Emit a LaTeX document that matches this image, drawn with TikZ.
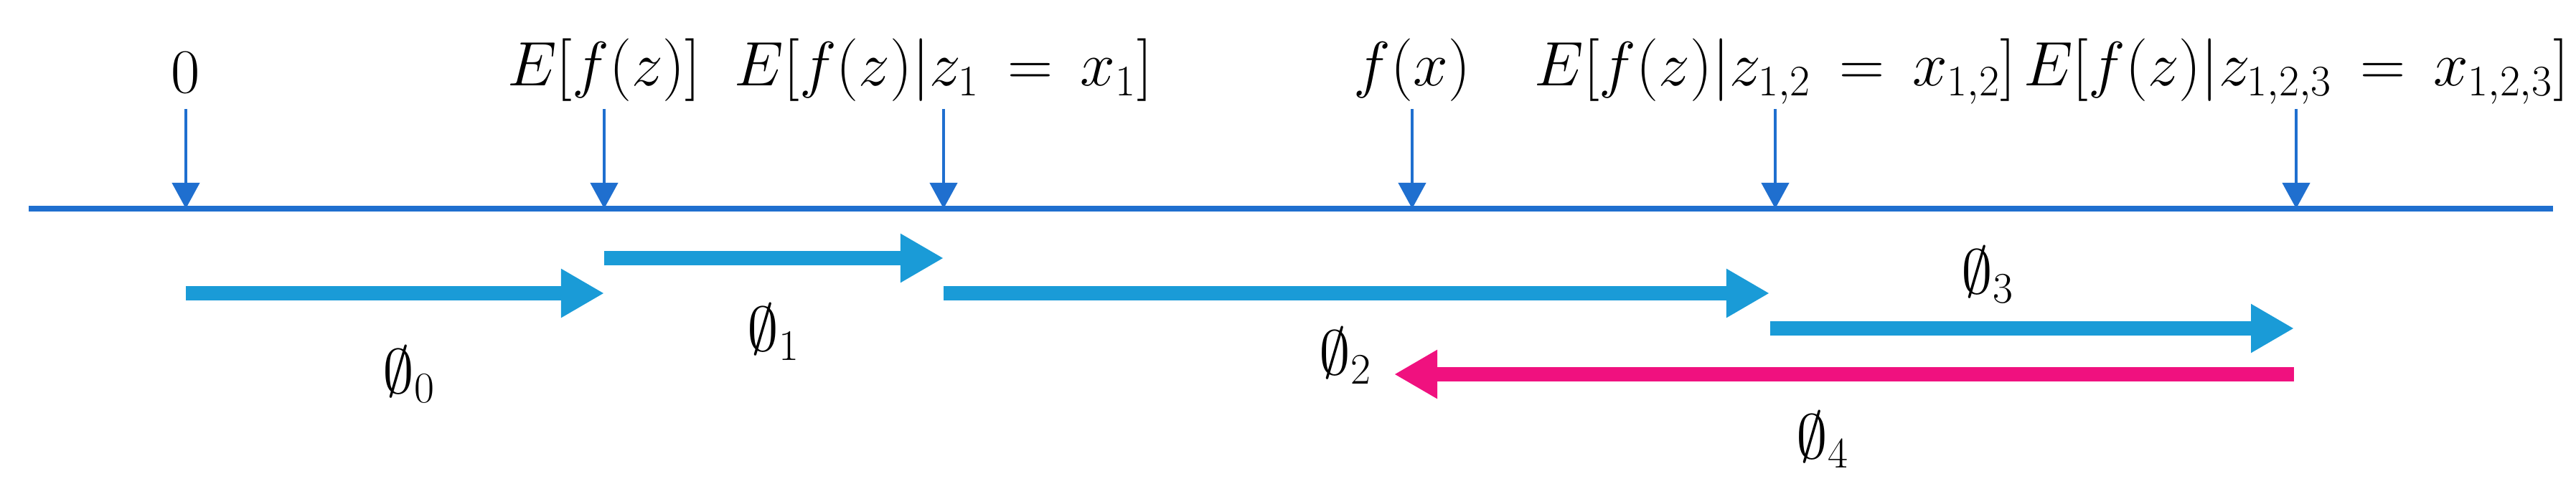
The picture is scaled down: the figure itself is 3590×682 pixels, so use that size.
\documentclass[tikz,border=0pt]{standalone}
\usepackage{amssymb}
\usetikzlibrary{arrows.meta}
\definecolor{tickblue}{HTML}{1F6FCF}
\definecolor{arrblue}{HTML}{1A9BD7}
\definecolor{arrpink}{HTML}{F0117F}
\begin{document}
\begin{tikzpicture}[x=0.01cm,y=-0.01cm,
  tick/.style={draw=tickblue,line width=1.2pt,-{Triangle[length=0.36cm,width=0.38cm]}},
  big/.style={line width=0.2cm,-{Triangle[length=0.6cm,width=0.64cm]}},
  lab/.style={font=\fontsize{23}{27}\selectfont,inner sep=0pt},
  phi/.style={font=\fontsize{23}{27}\selectfont,inner sep=0pt}]
\useasboundingbox (0,0) rectangle (3590,682);
\draw[tickblue,line width=2.2pt] (40,291) coordinate (L) -- (3558,291) coordinate (R);
\foreach \n/\x in {a/259,b/842,c/1315,d/1968,e/2474,f/3200}{
  \coordinate (top\n) at (\x,152);
  \coordinate (ax\n) at (\x,291);
  \draw[tick] (top\n) -- (ax\n);
}
\node[lab,anchor=base] (la) at (259,130) {$0$};
\node[lab,anchor=base] (lb) at (842,120) {$E[f(z)]$};
\node[lab,anchor=base] (lc) at (1315,120) {$E[f(z)|z_1\,=\,x_1]$};
\node[lab,anchor=base] (ld) at (1968,120) {$f(x)$};
\node[lab,anchor=base] (le) at (2474,120) {$E\bigl[f(z)|z_{1,2}\,=\,x_{1,2}\bigr]$};
\node[lab,anchor=base] (lf) at (3200,120) {$E\bigl[f(z)|z_{1,2,3}\,=\,x_{1,2,3}\bigr]$};
\coordinate (p0s) at (259,409); \coordinate (p0e) at (842,409);
\coordinate (p1s) at (842,360); \coordinate (p1e) at (1315,360);
\coordinate (p2s) at (1315,409); \coordinate (p2e) at (2466,409);
\coordinate (p3s) at (2467,458); \coordinate (p3e) at (3197,458);
\coordinate (p4s) at (3197,522); \coordinate (p4e) at (1943,522);
\draw[big,arrblue] (p0s) -- (p0e);
\draw[big,arrblue] (p1s) -- (p1e);
\draw[big,arrblue] (p2s) -- (p2e);
\draw[big,arrblue] (p3s) -- (p3e);
\draw[big,arrpink] (p4s) -- (p4e);
\node[phi] (f0) at (570,522) {$\emptyset_0$};
\node[phi] (f1) at (1078,463) {$\emptyset_1$};
\node[phi] (f2) at (1875,496) {$\emptyset_2$};
\node[phi] (f3) at (2770,383) {$\emptyset_3$};
\node[phi] (f4) at (2540,613) {$\emptyset_4$};
\end{tikzpicture}
\end{document}
